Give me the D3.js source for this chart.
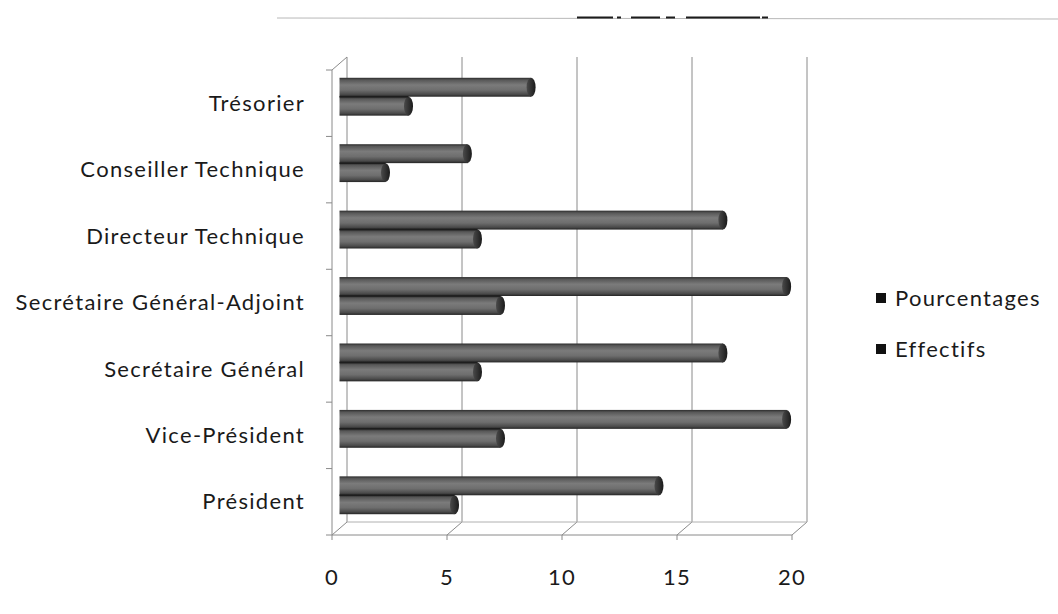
<!DOCTYPE html>
<html>
<head>
<meta charset="utf-8">
<script src="https://cdn.jsdelivr.net/npm/d3@7"></script>
<style>
  html, body { margin: 0; padding: 0; background: #ffffff; }
  svg { display: block; }
  text { font-family: Lato, "Open Sans", "DejaVu Sans", sans-serif; fill: #1a1a1a; }
</style>
</head>
<body>
<svg id="chart" width="1058" height="614"></svg>
<script>
// Postes du bureau, du haut vers le bas
const categories = [
  "Trésorier",
  "Conseiller Technique",
  "Directeur Technique",
  "Secrétaire Général-Adjoint",
  "Secrétaire Général",
  "Vice-Président",
  "Président"
];
const effectifs = [3, 2, 6, 7, 6, 7, 5];
const pourcentages = [8.33, 5.56, 16.67, 19.44, 16.67, 19.44, 13.89];
const seriesNames = ["Pourcentages", "Effectifs"];
const xTicks = [0, 5, 10, 15, 20];

const svg = d3.select("#chart");

// 3D box: front plane, bar plane (mid depth) and back wall
const depth = { dx: 15, dy: -13 };
const front = { x0: 332, x1: 792, y0: 70, y1: 535 };

const xFront = d3.scaleLinear().domain([0, 20]).range([front.x0, front.x1]);
const xMid = d3.scaleLinear().domain([0, 20])
  .range([front.x0 + depth.dx / 2, front.x1 + depth.dx / 2]);
const xBack = d3.scaleLinear().domain([0, 20])
  .range([front.x0 + depth.dx, front.x1 + depth.dx]);

const yFront = d3.scaleBand().domain(categories).range([front.y0, front.y1]).padding(0);
const step = yFront.step();
const ySeries = d3.scaleBand().domain(seriesNames)
  .range([step * 0.215, step * 0.785]).padding(0);

const labelFont = { size: 22, spacing: 1.3 };

// faint scan line across the top
const topLine = svg.append("g");
topLine.append("line").attr("x1", 277).attr("x2", 1058).attr("y1", 18).attr("y2", 19)
  .attr("stroke", "#b8b8b8").attr("stroke-width", 1);
[[577, 613], [617, 621], [631, 660], [666, 675], [686, 760], [762, 768]].forEach(([a, b]) => {
  topLine.append("line").attr("x1", a).attr("x2", b).attr("y1", 17.5).attr("y2", 17.5)
    .attr("stroke", "#1c1c1c").attr("stroke-width", 2);
});

// Gridlines on the back wall, running onto the floor
const grid = svg.append("g").attr("stroke", "#8a8a8a").attr("stroke-width", 1).attr("fill", "none");
const backTop = front.y0 + depth.dy;
const backBottom = front.y1 + depth.dy;
xTicks.forEach(t => {
  grid.append("path").attr("d",
    `M${xBack(t)},${backTop} L${xBack(t)},${backBottom} L${xFront(t)},${front.y1}`);
});
// floor edges
grid.append("line").attr("x1", xBack(0)).attr("x2", xBack(20))
  .attr("y1", backBottom).attr("y2", backBottom).attr("stroke", "#b0b0b0");
grid.append("line").attr("x1", xFront(0)).attr("x2", xFront(20))
  .attr("y1", front.y1).attr("y2", front.y1);
// left side wall
grid.append("path").attr("d",
  `M${xBack(0)},${backTop} L${xFront(0)},${front.y0} L${xFront(0)},${front.y1}`);
// category ticks on the side wall
categories.concat([null]).forEach((c, i) => {
  const y = front.y0 + i * step;
  grid.append("line").attr("x1", xFront(0) - 6).attr("x2", xFront(0))
    .attr("y1", y).attr("y2", y);
});
// value ticks under the floor
xTicks.forEach(t => {
  grid.append("line").attr("x1", xFront(t)).attr("x2", xFront(t))
    .attr("y1", front.y1).attr("y2", front.y1 + 5);
});

// Cylinder shading
const defs = svg.append("defs");
const grad = defs.append("linearGradient").attr("id", "cyl")
  .attr("x1", 0).attr("y1", 0).attr("x2", 0).attr("y2", 1);
[[0, "#2c2c2c"], [0.12, "#585858"], [0.38, "#7b7b7b"], [0.65, "#6e6e6e"], [0.88, "#4a4a4a"], [1, "#242424"]]
  .forEach(([o, c]) => grad.append("stop").attr("offset", o).attr("stop-color", c));
const capGrad = defs.append("linearGradient").attr("id", "cap")
  .attr("x1", 0).attr("y1", 0).attr("x2", 1).attr("y2", 0);
[[0, "#4a4a4a"], [0.6, "#2e2e2e"], [1, "#1a1a1a"]]
  .forEach(([o, c]) => capGrad.append("stop").attr("offset", o).attr("stop-color", c));

const rows = categories.map((c, i) => ({
  cat: c,
  values: [
    { series: "Pourcentages", value: pourcentages[i] },
    { series: "Effectifs", value: effectifs[i] }
  ]
}));

const bars = svg.append("g");
const row = bars.selectAll("g.row").data(rows).join("g")
  .attr("class", "row")
  .attr("transform", d => `translate(0,${yFront(d.cat) + depth.dy / 2})`);

const bar = row.selectAll("g.bar").data(d => d.values).join("g").attr("class", "bar");
const h = ySeries.bandwidth();
bar.append("rect")
  .attr("x", xMid(0))
  .attr("y", d => ySeries(d.series))
  .attr("width", d => xMid(d.value) - xMid(0))
  .attr("height", h)
  .attr("fill", "url(#cyl)");
bar.append("ellipse")
  .attr("cx", d => xMid(d.value))
  .attr("cy", d => ySeries(d.series) + h / 2)
  .attr("rx", 4.5)
  .attr("ry", h / 2)
  .attr("fill", "url(#cap)");
// separation line between the two cylinders
row.append("line")
  .attr("x1", xMid(0)).attr("x2", d => xMid(d3.min(d.values, v => v.value)))
  .attr("y1", ySeries("Effectifs")).attr("y2", ySeries("Effectifs"))
  .attr("stroke", "#1e1e1e").attr("stroke-width", 1.5);

// Category labels
svg.append("g").selectAll("text").data(categories).join("text")
  .attr("x", 305)
  .attr("y", c => yFront(c) + step / 2)
  .attr("dy", "0.35em")
  .attr("text-anchor", "end")
  .attr("font-size", labelFont.size)
  .attr("letter-spacing", labelFont.spacing)
  .text(c => c);

// Value axis labels
svg.append("g").selectAll("text").data(xTicks).join("text")
  .attr("x", t => xFront(t))
  .attr("y", 577)
  .attr("dy", "0.35em")
  .attr("text-anchor", "middle")
  .attr("font-size", labelFont.size)
  .attr("letter-spacing", labelFont.spacing)
  .text(t => t);

// Legend
const legend = svg.append("g").attr("transform", "translate(876,0)");
const ly = d3.scalePoint().domain(seriesNames).range([298, 349]);
legend.selectAll("rect").data(seriesNames).join("rect")
  .attr("x", 0).attr("y", s => ly(s) - 5).attr("width", 10).attr("height", 10)
  .attr("fill", "#111");
legend.selectAll("text").data(seriesNames).join("text")
  .attr("x", 19).attr("y", s => ly(s)).attr("dy", "0.35em")
  .attr("font-size", labelFont.size)
  .attr("letter-spacing", labelFont.spacing)
  .text(s => s);
</script>
</body>
</html>
